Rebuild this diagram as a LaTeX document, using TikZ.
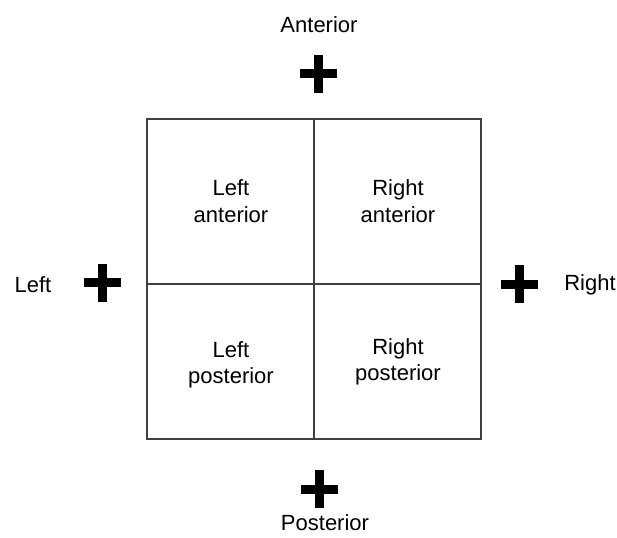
\documentclass[tikz,border=0pt]{standalone}
\usepackage{fontspec}
\setmainfont{Liberation Sans}
\begin{document}
\begin{tikzpicture}[x=1pt,y=-1pt,
  lbl/.style={font=\fontsize{22}{26.5}\selectfont, inner sep=0pt, align=center, anchor=center},
  grid/.style={draw=black!75, line width=1.1pt},
  plusbar/.style={fill=black}]
\useasboundingbox (0,0) rectangle (617,537);
\fill[white] (0,0) rectangle (617,537);
% grid
\draw[grid] (147,119) rectangle (481,439);
\draw[grid] (314,119) -- (314,439);
\draw[grid] (147,284) -- (481,284);
% plus signs
\foreach \cx/\cy in {318.5/74, 102/282.5, 519/284, 319/489}{
  \fill[plusbar] (\cx-18.5,\cy-4.5) rectangle (\cx+18.5,\cy+4.5);
  \fill[plusbar] (\cx-4.5,\cy-19) rectangle (\cx+4.5,\cy+19);
}
% labels
\node[lbl] (ant) at (319,25) {Anterior};
\node[lbl] (post) at (325,523) {Posterior};
\node[lbl] (left) at (33,285) {Left};
\node[lbl] (right) at (590,285) {Right};
\node[lbl] (la) at (231,201) {Left\\anterior};
\node[lbl] (ra) at (398,201) {Right\\anterior};
\node[lbl] (lp) at (231,365) {Left\\posterior};
\node[lbl] (rp) at (398,362) {Right\\posterior};
\end{tikzpicture}
\end{document}
